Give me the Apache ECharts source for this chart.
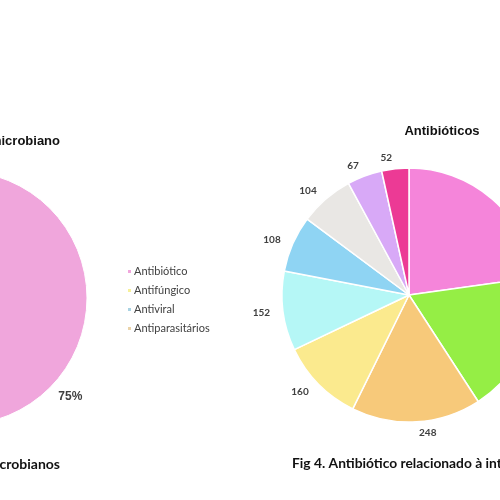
<!DOCTYPE html>
<html>
<head>
<meta charset="utf-8">
<script src="https://cdn.jsdelivr.net/npm/echarts@6/dist/echarts.min.js"></script>
<style>html,body{margin:0;padding:0;background:#fff;}#c{width:500px;height:500px;}</style>
</head>
<body>
<div id="c"></div>
<script>
// Left chart: type of antimicrobial (%)
const leftCategories = ['Antibiótico', 'Antifúngico', 'Antiviral', 'Antiparasitários'];
const leftValues = [75, 12, 8, 5];
const leftColors = ['#F0A6DC', '#F6F09A', '#A9D2E2', '#EAD3A9'];

// Right chart: antibiotics
const rightCategories = ['A1', 'A2', 'A3', 'A4', 'A5', 'A6', 'A7', 'A8', 'A9'];
const rightValues = [343, 272, 248, 160, 152, 108, 104, 67, 52];
const rightColors = ['#F585DA', '#95EE45', '#F7C97A', '#FBEA8E', '#B5F7F6', '#8FD4F3', '#E9E7E4', '#D8A9F7', '#EC3A95'];

const titles = {
  leftTitle: 'Tipo de antimicrobiano',
  rightTitle: 'Antibióticos',
  leftCaption: 'Fig 3. Tipos de antimicrobianos',
  rightCaption: 'Fig 4. Antibiótico relacionado à internação'
};

const chart = echarts.init(document.getElementById('c'));
chart.setOption({
  animation: false,
  backgroundColor: '#ffffff',
  title: [
    { text: titles.leftTitle, right: 440, top: 135, padding: 0,
      textStyle: { fontFamily: 'Liberation Sans, Arial', fontSize: 13, fontWeight: 'bold', color: '#111' } },
    { text: titles.rightTitle, left: 442, top: 125, padding: 0, textAlign: 'center',
      textStyle: { fontFamily: 'Liberation Sans, Arial', fontSize: 13, fontWeight: 'bold', color: '#111' } },
    { text: titles.leftCaption, right: 440, top: 457, padding: 0,
      textStyle: { fontFamily: 'Lato, Open Sans', fontSize: 14, fontWeight: 'bold', color: '#111' } },
    { text: titles.rightCaption, left: 292, top: 457, padding: 0,
      textStyle: { fontFamily: 'Lato, Open Sans', fontSize: 13.8, fontWeight: 'bold', color: '#111' } }
  ],
  legend: {
    orient: 'vertical',
    left: 126,
    top: 266,
    padding: 0,
    icon: 'rect',
    itemWidth: 5,
    itemHeight: 5,
    itemGap: 8,
    data: leftCategories,
    textStyle: { fontFamily: 'Lato, Open Sans', fontSize: 11, color: '#404040', padding: [0, 0, 0, -3] }
  },
  series: [
    {
      type: 'pie',
      center: [-40, 298],
      radius: 127,
      startAngle: 90,
      clockwise: true,
      avoidLabelOverlap: false,
      data: leftCategories.map((n, i) => ({ name: n, value: leftValues[i], itemStyle: { color: leftColors[i] } })),
      itemStyle: { borderColor: '#fff', borderWidth: 1 },
      label: { show: true, position: 'outside', formatter: '{c}%', distanceToLabelLine: 0,
        fontFamily: 'Liberation Sans, Arial', fontSize: 12, fontWeight: 'bold', color: '#404040' },
      labelLine: { show: false, length: 12, length2: 0 },
      emphasis: { disabled: true }
    },
    {
      type: 'pie',
      center: [409, 295],
      radius: 127,
      startAngle: 90,
      clockwise: true,
      avoidLabelOverlap: false,
      data: rightCategories.map((n, i) => ({ name: n, value: rightValues[i], itemStyle: { color: rightColors[i] } })),
      itemStyle: { borderColor: '#fff', borderWidth: 1.5 },
      label: { show: true, position: 'outside', formatter: '{c}', distanceToLabelLine: 2,
        fontFamily: 'Lato, Open Sans', fontSize: 10, fontWeight: 'bold', color: '#404040' },
      labelLine: { show: false, length: 11, length2: 0 },
      emphasis: { disabled: true }
    }
  ]
});
</script>
</body>
</html>
